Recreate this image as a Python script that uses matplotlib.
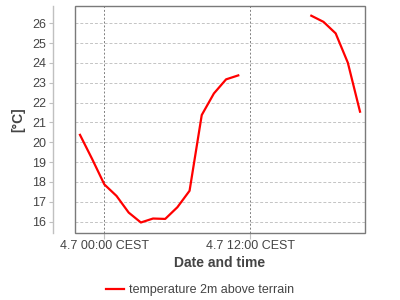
import numpy as np
import pandas as pd
import matplotlib
matplotlib.use("Agg")
import matplotlib.pyplot as plt
from matplotlib.patches import Rectangle

plt.rcParams['font.family'] = ['Liberation Sans', 'DejaVu Sans']

# hourly timestamps from 3.7 22:00 to 4.7 21:00 (local CEST)
times = pd.date_range("2024-07-03 22:00", "2024-07-04 21:00", freq="h")
temps = [20.37, 19.15, 17.87, 17.29, 16.45, 15.95, 16.15, 16.13, 16.72, 17.55,
         21.37, 22.46, 23.17, 23.37, np.nan, np.nan, np.nan, np.nan, np.nan,
         26.38, 26.07, 25.49, 24.01, 21.54]
series_name = "temperature 2m above terrain"
xtick_times = pd.to_datetime(["2024-07-04 00:00", "2024-07-04 12:00"])
xtick_labels = ["4.7 00:00 CEST", "4.7 12:00 CEST"]
yticks = [16, 17, 18, 19, 20, 21, 22, 23, 24, 25, 26]

fig = plt.figure(figsize=(4, 3), dpi=100)
ax = fig.add_axes([75/400, 1-233/300, 290/400, 227/300])

t0 = pd.Timestamp("2024-07-04 00:00")
hours = (times - t0) / pd.Timedelta(hours=1)
xt = (xtick_times - t0) / pd.Timedelta(hours=1)

ax.plot(hours, temps, color='#ff0000', lw=1.6, label=series_name, zorder=3)

ax.set_xlim(-2.41, 21.41)
ax.set_ylim(15.42, 26.87)

ax.set_yticks(yticks)
ax.set_xticks(xt)
ax.set_xticklabels(xtick_labels)

# grid
for y in yticks:
    ax.axhline(y, color='#c4c4c4', lw=0.7, ls=(0, (3, 2)), zorder=1)
for x in xt:
    ax.axvline(x, color='#808080', lw=0.7, ls=(0, (2, 2)), zorder=1)

for s in ['top', 'right', 'bottom']:
    ax.spines[s].set_visible(False)
ax.spines['left'].set_position(('outward', 15.8))
ax.spines['left'].set_color('#c0c0c0')
ax.spines['left'].set_linewidth(1.0)

ax.add_patch(Rectangle((0, 0), 1, 1, transform=ax.transAxes, fill=False,
                       edgecolor='#7a7a7a', lw=1.0, clip_on=False, zorder=4))

ax.tick_params(axis='y', length=3, width=0.8, color='#c0c0c0', labelsize=9,
               labelcolor='#444444', pad=2)
ax.tick_params(axis='x', length=4, width=0.8, color='#c0c0c0', labelsize=9,
               labelcolor='#444444', pad=1)

ax.set_xlabel("Date and time", fontsize=10, fontweight='bold', color='#444444', labelpad=3)
ax.set_ylabel("[°C]", fontsize=10, fontweight='bold', color='#444444', labelpad=5)

fig.legend(loc='lower center', bbox_to_anchor=(0.5, -0.025), frameon=False,
           fontsize=9, handlelength=1.5, handletextpad=0.4,
           labelcolor='#444444')

fig.savefig("out.png", dpi=100)
